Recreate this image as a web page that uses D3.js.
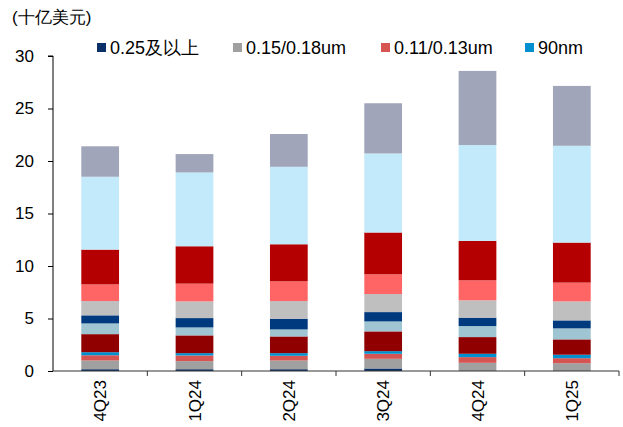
<!DOCTYPE html>
<html><head><meta charset="utf-8">
<script src="https://cdn.jsdelivr.net/npm/d3@7"></script>
<style>
html,body{margin:0;padding:0;background:#fff;}
svg text{font-family:"Liberation Sans",Arial,sans-serif;}
</style></head>
<body><svg id="c" width="623" height="427"></svg>
<script>
const categories = ["4Q23","1Q24","2Q24","3Q24","4Q24","1Q25"];
// bottom to top
const s025   = [0.17,0.17,0.17,0.24,0.00,0.00];
const s015   = [0.83,0.77,0.83,0.92,0.78,0.74];
const s011   = [0.50,0.54,0.45,0.48,0.54,0.48];
const s90    = [0.29,0.22,0.25,0.25,0.32,0.33];
const s65    = [1.72,1.69,1.59,1.88,1.59,1.46];
const s40    = [1.02,0.76,0.67,0.95,1.05,1.05];
const s28    = [0.77,0.89,1.02,0.89,0.80,0.76];
const s22    = [1.36,1.59,1.68,1.72,1.65,1.81];
const s16    = [1.59,1.69,1.88,1.88,1.91,1.79];
const s7     = [3.31,3.56,3.53,3.98,3.75,3.81];
const s5     = [6.94,7.03,7.38,7.53,9.13,9.22];
const s3     = [2.90,1.75,3.12,4.78,7.06,5.70];
const seriesNames = ["0.25及以上","0.15/0.18um","0.11/0.13um","90nm","65/55nm","40/45nm","28nm","22/20nm","16/14nm","7nm","5nm","3nm"];
const seriesValues = [s025,s015,s011,s90,s65,s40,s28,s22,s16,s7,s5,s3];
const colors = ["#0b3068","#a0a0a0","#d65452","#0090d0","#900000","#9fc4d2","#003a7e","#bfbfbf","#ff6565","#b40000","#c2eafa","#a0a5b9"];
const legendCount = 4;
const yTicks = [0,5,10,15,20,25,30];
const unitLabel = "(十亿美元)";

const table = categories.map((c,i)=>{
  const o={cat:c};
  seriesNames.forEach((n,j)=>o[n]=seriesValues[j][i]);
  return o;
});
const stack = d3.stack().keys(seriesNames)(table);

const svg = d3.select("#c");
const L=53, R=619, T=56, B=371;
const x = d3.scaleBand().domain(categories).range([L,R]).paddingInner(0.6).paddingOuter(0.3);
const y = d3.scaleLinear().domain([0,30]).range([B,T]);

svg.append("g").selectAll("g").data(stack).join("g")
  .attr("fill",(d,i)=>colors[i])
  .selectAll("rect").data(d=>d).join("rect")
  .attr("x",d=>x(d.data.cat))
  .attr("width",x.bandwidth())
  .attr("y",d=>y(d[1]))
  .attr("height",d=>Math.max(0,y(d[0])-y(d[1])));

// y axis
const ya = svg.append("g").attr("transform",`translate(${L},0)`)
  .call(d3.axisLeft(y).tickValues(yTicks).tickSize(5).tickPadding(14));
ya.select(".domain").attr("stroke","#000").attr("d",`M-5,${T}H0V${B}`);
ya.selectAll(".tick line").attr("stroke","#000");
ya.selectAll("text").attr("font-size","17px").attr("fill","#000").attr("font-family","Liberation Sans, Arial, sans-serif");

// x axis
const step = (R-L)/categories.length;
const xa = svg.append("g");
xa.append("line").attr("x1",L).attr("x2",R).attr("y1",B).attr("y2",B).attr("stroke","#333").attr("stroke-width",1.2);
xa.selectAll("line.t").data(d3.range(1,categories.length+1)).join("line")
  .attr("class","t")
  .attr("x1",i=>L+i*step).attr("x2",i=>L+i*step)
  .attr("y1",B).attr("y2",B+5).attr("stroke","#333");
xa.selectAll("text").data(categories).join("text")
  .attr("transform",d=>`translate(${x(d)+x.bandwidth()/2+6},380) rotate(-90)`)
  .attr("text-anchor","end")
  .attr("font-size","17px").attr("fill","#000")
  .text(d=>d);

// unit label
svg.append("text").attr("x",12).attr("y",23).attr("font-size","17px")
  .attr("font-family","'Noto Sans CJK SC', sans-serif").attr("fill","#000").text(unitLabel);

// legend
const legendX = [97,233,381,525];
const lg = svg.append("g");
for(let i=0;i<legendCount;i++){
  lg.append("rect").attr("x",legendX[i]).attr("y",43).attr("width",9).attr("height",9).attr("fill",colors[i]);
  lg.append("text").attr("x",legendX[i]+13).attr("y",54).attr("font-size","18px")
    .attr("font-family","'Liberation Sans','Noto Sans CJK SC',sans-serif").attr("fill","#000").text(seriesNames[i]);
}
</script></body></html>
